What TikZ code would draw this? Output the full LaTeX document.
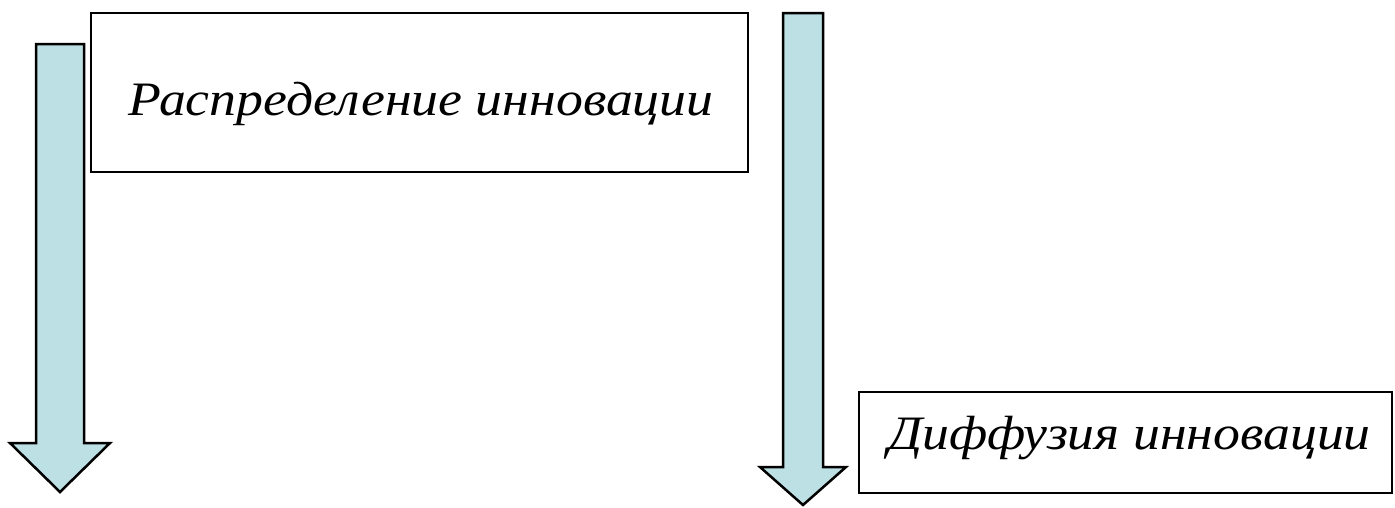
\documentclass[tikz,border=0pt]{standalone}
\usepackage{fontspec}
\setmainfont{Liberation Serif}
\definecolor{arrowfill}{RGB}{189,224,228}
\begin{document}
\begin{tikzpicture}[x=1pt,y=-1pt,
  box/.style={draw=black,line width=2.5pt,fill=white},
  bigarrow/.style={draw=black,line width=2.5pt,fill=arrowfill,line join=miter},
  lbl/.style={font=\fontsize{48}{56}\selectfont\itshape,inner sep=0pt,anchor=base west}]
\useasboundingbox (0,0) rectangle (1395,507);
% left arrow
\draw[bigarrow] (36,44) -- (84,44) -- (84,443) -- (110,443) -- (60,492) -- (10,443) -- (36,443) -- cycle;
% right arrow
\draw[bigarrow] (783,13) -- (823,13) -- (823,467) -- (846,467) -- (803,505) -- (760,467) -- (783,467) -- cycle;
% boxes
\draw[box] (91,13) rectangle (748,172);
\node[lbl] (t1) at (128,115) {\scalebox{1.12}[1]{Распределение инновации}};
\draw[box] (859,392) rectangle (1392,493);
\node[lbl] (t2) at (888,449) {\scalebox{1.12}[1]{Диффузия инновации}};
\end{tikzpicture}
\end{document}
